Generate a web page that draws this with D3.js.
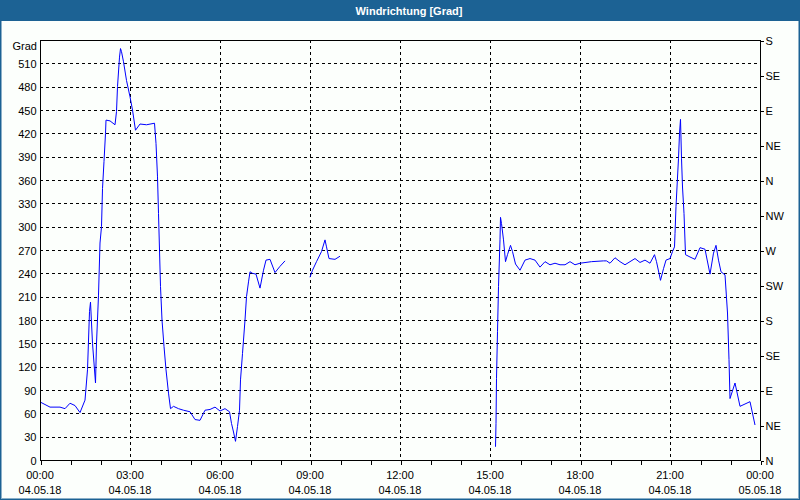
<!DOCTYPE html>
<html><head><meta charset="utf-8">
<script src="https://cdn.jsdelivr.net/npm/d3@7"></script>
<style>
html,body{margin:0;padding:0;background:#fcfffc;}
svg{display:block;}
text{font-family:"Liberation Sans",Arial,sans-serif;}
</style></head>
<body>
<script>
// Data: minutes since 04.05.18 00:00, wind direction in degrees (null = gap)
const minutes = [2,20,40,50,60,70,80,90,95,99,101,105,111,113,117,120,123,125,128,131,132,140,150,153,155,159,161,163,167,173,180,185,191,200,213,229,232,235,237,239,241,244,248,252,257,261,267,277,287,300,310,320,330,340,350,360,370,379,383,387,391,395,399,401,405,410,413,417,420,425,432,440,447,452,460,470,480,490,
  515,
  540,545,553,563,570,573,578,590,600,
  750,
  911,912,913,915,917,920,921,923,927,931,935,941,945,951,960,970,980,990,1000,1010,1020,1030,1040,1050,1060,1070,1080,1103,1127,1133,1140,1150,1160,1170,1180,1190,1200,1210,1220,1229,1233,1241,1247,1252,1260,1265,1269,1270,1272,1277,1279,1281,1283,1285,1288,1291,1300,1310,1320,1330,1340,1347,1352,1357,1362,1370,1375,1378,1380,1390,1400,1420,1430];
const degrees = [74,68,68,66,73,70,61,77,116,191,203,150,99,150,212,279,300,349,384,420,437,436,431,448,480,518,529,525,512,488,467,450,424,432,431,433,407,364,317,270,223,180,146,116,86,66,69,66,64,62,52,51,64,65,68,63,66,62,47,36,24,43,64,103,137,180,210,229,242,240,239,221,244,257,258,241,249,256,
  null,
  235,244,255,268,283,274,259,258,262,
  null,
  17,47,105,165,223,283,312,304,283,255,264,276,268,252,244,257,259,257,248,255,251,253,251,251,255,251,253,255,256,256,253,260,255,251,255,259,254,257,253,264,255,231,246,257,259,268,274,291,326,388,420,438,388,351,317,264,261,258,273,271,239,266,276,257,242,238,189,129,79,99,69,75,45];

const leftTicks = [30,60,90,120,150,180,210,240,270,300,330,360,390,420,450,480,510];
const leftTickLabels = ["0","30","60","90","120","150","180","210","240","270","300","330","360","390","420","450","480","510"];
const rightTicks = [0,45,90,135,180,225,270,315,360,405,450,495,540];
const rightLabels = ["N","NE","E","SE","S","SW","W","NW","N","NE","E","SE","S"];
const timeLabels = ["00:00","03:00","06:00","09:00","12:00","15:00","18:00","21:00","00:00"];
const dateLabels = ["04.05.18","04.05.18","04.05.18","04.05.18","04.05.18","04.05.18","04.05.18","04.05.18","05.05.18"];
const title = "Windrichtung [Grad]";
const yUnit = "Grad";

const W = 800, H = 500;
const m = {l:40, r:760, t:40, b:460};
const svg = d3.select("body").append("svg").attr("width",W).attr("height",H);

// window frame & title
svg.append("rect").attr("x",0).attr("y",0).attr("width",W).attr("height",H).attr("fill","#fcfffc");
svg.append("rect").attr("x",0).attr("y",0).attr("width",W).attr("height",21).attr("fill","#1c6294");
svg.append("rect").attr("x",0.5).attr("y",0.5).attr("width",W-1).attr("height",H-1)
  .attr("fill","none").attr("stroke","#1c6294").attr("stroke-width",1);
svg.append("rect").attr("x",1.5).attr("y",1.5).attr("width",W-3).attr("height",H-3)
  .attr("fill","none").attr("stroke","#1c6294").attr("stroke-width",1).attr("opacity",0.5);
svg.append("text").attr("x",409).attr("y",15).attr("text-anchor","middle")
  .attr("fill","#fff").attr("font-size","11px").attr("font-weight","bold").text(title);

const t0 = new Date(2018,4,4,0,0);
const t1 = new Date(2018,4,5,0,0);
const x = d3.scaleTime().domain([t0,t1]).range([m.l,m.r]);
const y = d3.scaleLinear().domain([0,540]).range([m.b,m.t]);
const tm = mm => new Date(t0.getTime()+mm*60000);

const g = svg.append("g").attr("shape-rendering","crispEdges");

// horizontal grid
g.selectAll("line.hg").data(leftTicks).enter().append("line")
  .attr("x1",m.l).attr("x2",m.r)
  .attr("y1",d=>Math.round(y(d))+0.5).attr("y2",d=>Math.round(y(d))+0.5)
  .attr("stroke","#000").attr("stroke-dasharray","3,3");
// vertical grid
const gridTimes = d3.range(3,24,3).map(h=>tm(h*60));
g.selectAll("line.vg").data(gridTimes).enter().append("line")
  .attr("y1",m.t).attr("y2",m.b)
  .attr("x1",d=>Math.round(x(d))+0.5).attr("x2",d=>Math.round(x(d))+0.5)
  .attr("stroke","#000").attr("stroke-dasharray","3,3");

// line
const pts = minutes.map((mm,i)=>({t:tm(mm), v:degrees[i]}));
const line = d3.line().defined(d=>d.v!==null).x(d=>x(d.t)).y(d=>y(d.v));
svg.append("path").datum(pts).attr("d",line).attr("fill","none")
  .attr("stroke","#0000ff").attr("stroke-width",1).attr("stroke-linejoin","miter");

// frame
g.append("rect").attr("x",m.l+0.5).attr("y",m.t+0.5).attr("width",m.r-m.l).attr("height",m.b-m.t)
  .attr("fill","none").attr("stroke","#000");

// left axis
const la = svg.append("g").attr("transform",`translate(${m.l+0.5},0.5)`)
  .call(d3.axisLeft(y).tickValues([0].concat(leftTicks)).tickSize(0).tickPadding(4)
     .tickFormat((d,i)=>leftTickLabels[i]));
la.select(".domain").remove();
la.selectAll("text").attr("font-size","11px").attr("fill","#000").attr("font-family","Liberation Sans, Arial, sans-serif");
svg.append("text").attr("x",37).attr("y",50).attr("text-anchor","end")
  .attr("font-size","11px").attr("fill","#000").text(yUnit);

// right axis
const ra = svg.append("g").attr("transform",`translate(${m.r+0.5},0.5)`)
  .attr("shape-rendering","crispEdges")
  .call(d3.axisRight(y).tickValues(rightTicks).tickSize(3).tickPadding(2)
     .tickFormat((d,i)=>rightLabels[i]));
ra.select(".domain").remove();
ra.selectAll("text").attr("font-size","11px").attr("fill","#000").attr("font-family","Liberation Sans, Arial, sans-serif");

// bottom axis: hourly ticks
const ba = svg.append("g").attr("transform",`translate(0.5,${m.b+0.5})`)
  .attr("shape-rendering","crispEdges")
  .call(d3.axisBottom(x).ticks(d3.timeHour.every(1)).tickSize(4).tickFormat(""));
ba.select(".domain").remove();
// bottom labels
const labTimes = d3.range(0,25,3).map(h=>tm(h*60));
const lb = svg.append("g");
lb.selectAll("text.t").data(labTimes).enter().append("text")
  .attr("x",d=>x(d)).attr("y",479).attr("text-anchor","middle")
  .attr("font-size","11px").attr("fill","#000").text((d,i)=>timeLabels[i]);
lb.selectAll("text.d").data(labTimes).enter().append("text")
  .attr("x",d=>x(d)).attr("y",494).attr("text-anchor","middle")
  .attr("font-size","11px").attr("fill","#000").text((d,i)=>dateLabels[i]);
</script>
</body></html>
